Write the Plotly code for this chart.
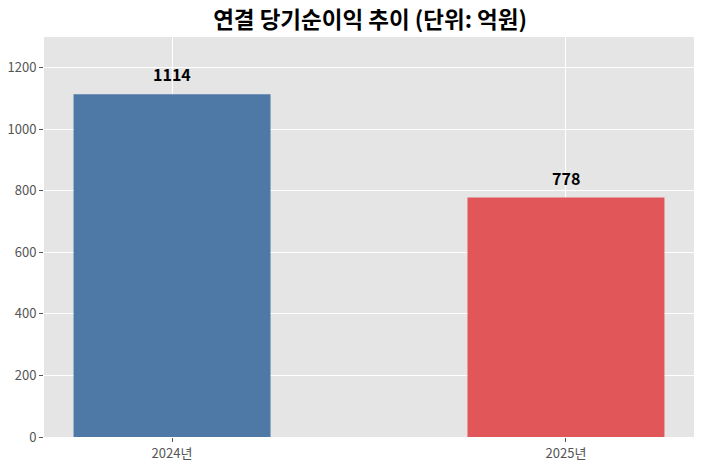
import plotly.graph_objects as go

years = ['2024년', '2025년']
net_income = [1114, 778]
bar_colors = ['#4E79A7', '#E15759']
y_ticks = [0, 200, 400, 600, 800, 1000, 1200]

FONT = 'Noto Sans CJK KR'

fig = go.Figure(go.Bar(
    x=[0, 1], y=net_income, width=0.5,
    marker=dict(color=bar_colors, line=dict(width=0)),
    hoverinfo='skip',
))

for i, v in enumerate(net_income):
    fig.add_annotation(x=i, y=v, text=f'<b>{v}</b>', showarrow=False,
                       yanchor='bottom', yshift=6,
                       font=dict(family=FONT, size=16, color='black'))

fig.update_layout(
    width=720, height=465,
    margin=dict(l=44, r=26, t=37, b=28),
    paper_bgcolor='white', plot_bgcolor='#E5E5E5',
    showlegend=False,
    title=dict(text='<b>연결 당기순이익 추이 (단위: 억원)</b>', x=0.514, xanchor='center',
               y=0.957, yanchor='middle',
               font=dict(family=FONT, size=22.5, color='black')),
    font=dict(family=FONT, size=13, color='#555555'),
    xaxis=dict(range=[-0.325, 1.325], tickvals=[0, 1], ticktext=years,
               showgrid=True, gridcolor='white', gridwidth=1,
               ticks='outside', ticklen=4, tickcolor='#555555',
               zeroline=False, showline=False, automargin=False),
    yaxis=dict(range=[0, 1300], tickvals=y_ticks,
               showgrid=True, gridcolor='white', gridwidth=1,
               ticks='outside', ticklen=4, tickcolor='#555555',
               zeroline=False, showline=False, automargin=False),
)

# drop the browser's default 8px body margin so the figure fills the window
fig.write_html('out.html', config={'displayModeBar': False},
               post_script="document.body.style.margin='0';")
